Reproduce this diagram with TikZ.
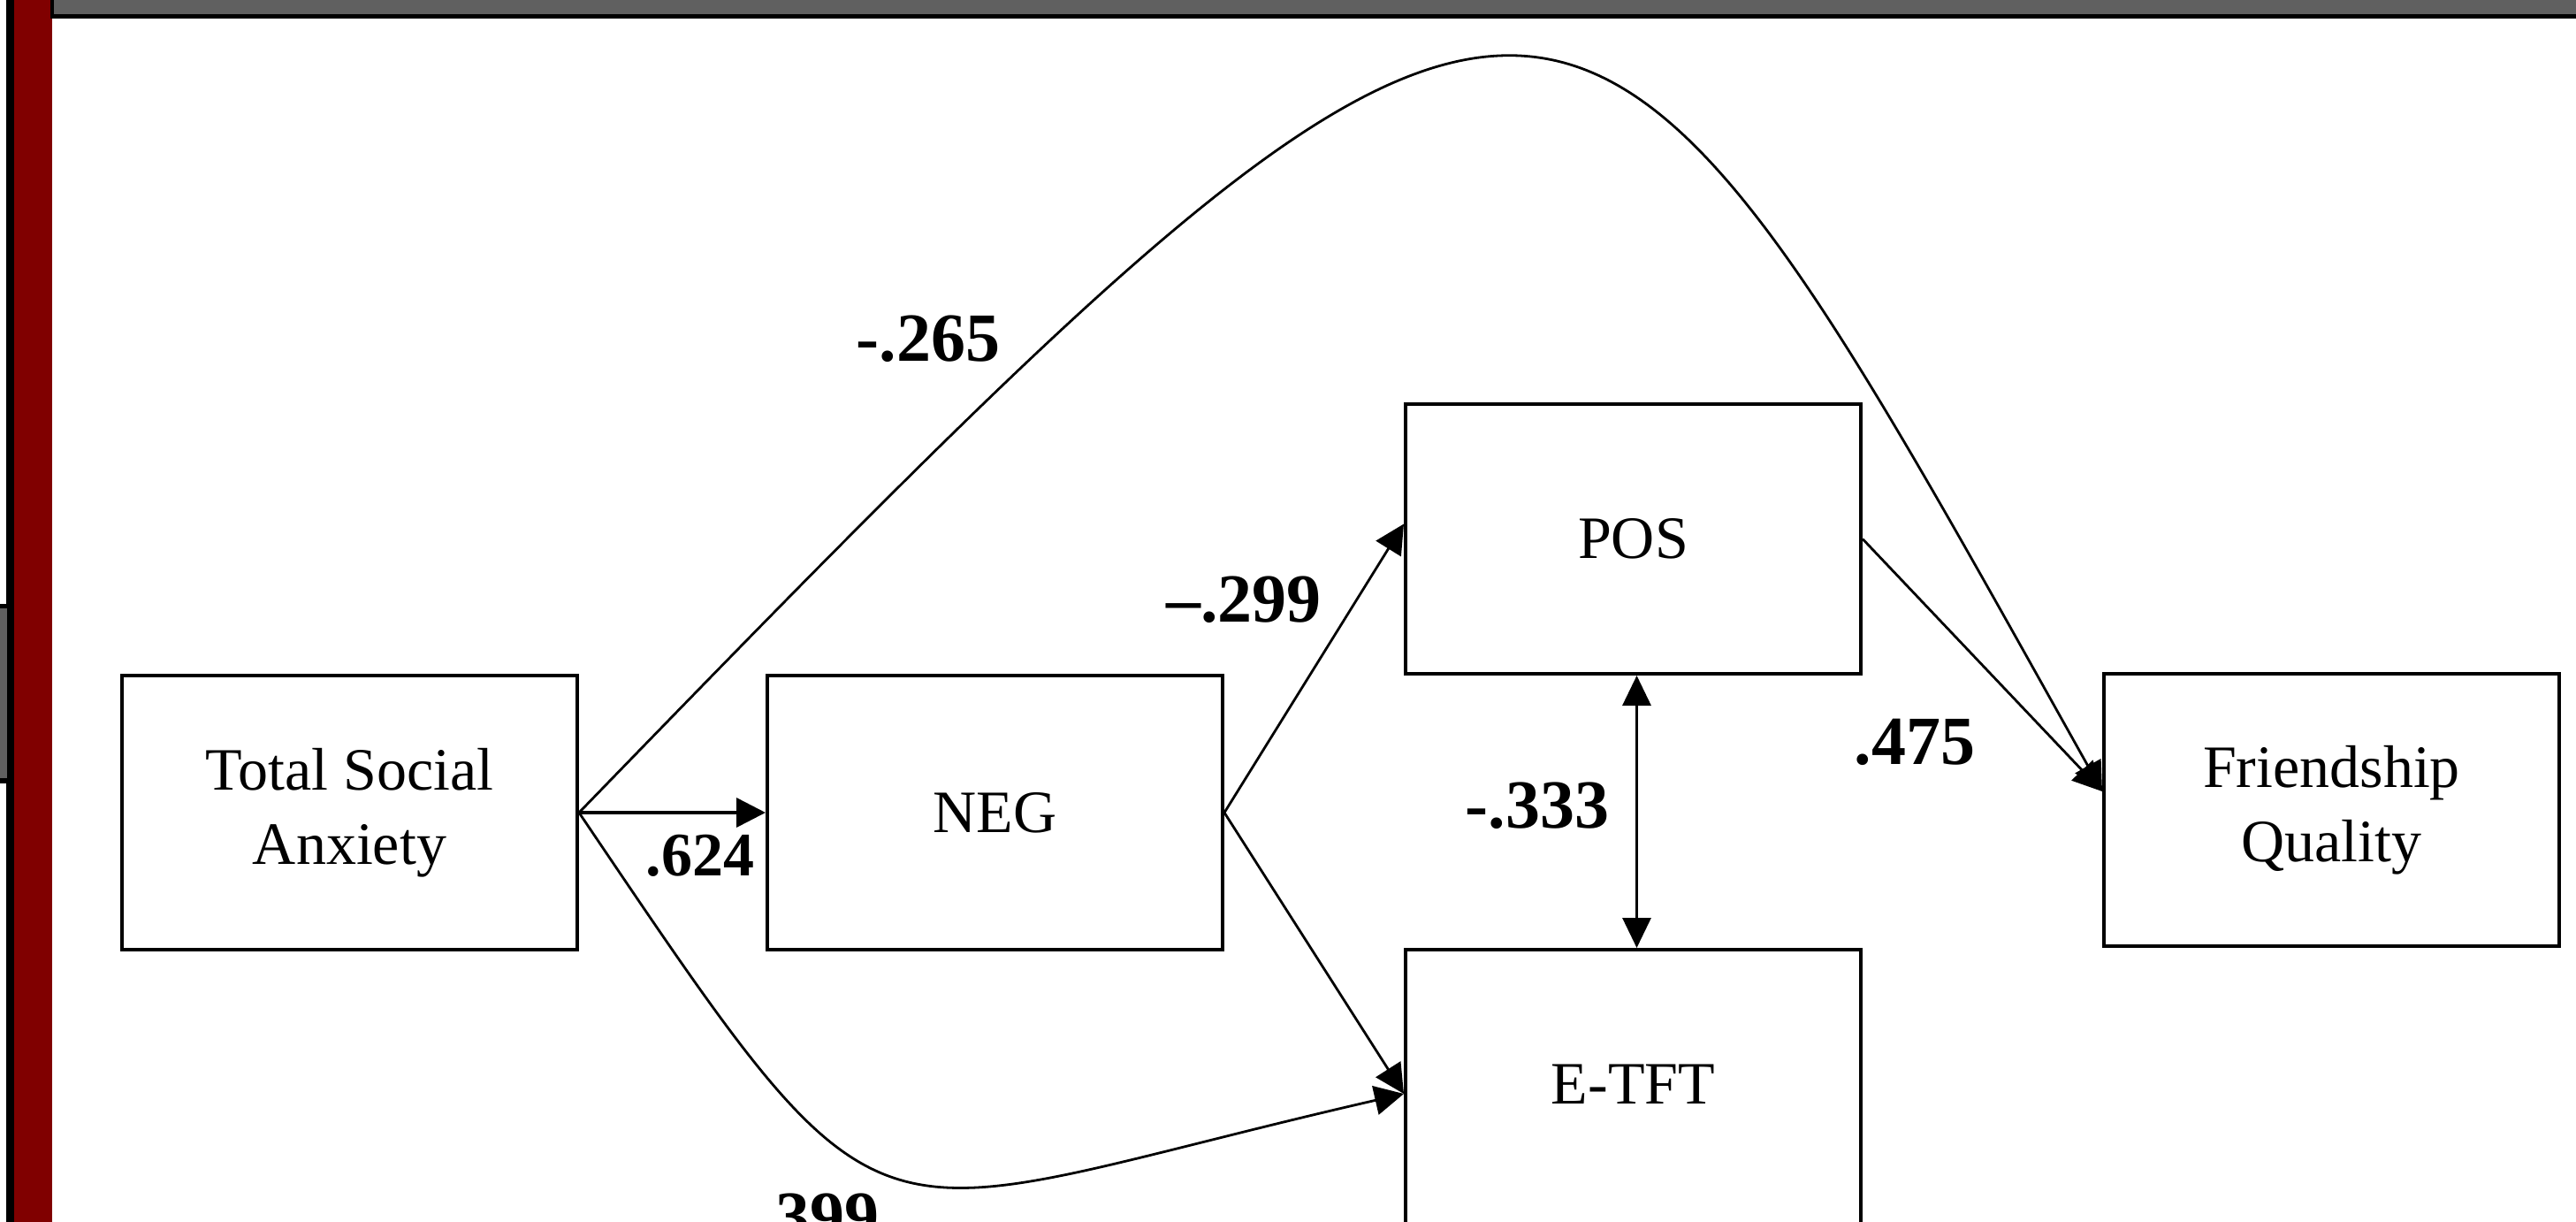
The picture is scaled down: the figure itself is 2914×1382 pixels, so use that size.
\documentclass[tikz,border=0pt]{standalone}
\usepackage{fontspec}
\setmainfont{Liberation Serif}
\usetikzlibrary{arrows.meta}
\definecolor{darkred}{HTML}{800000}
\definecolor{bargray}{HTML}{606060}
\begin{document}
\begin{tikzpicture}[x=0.25pt,y=-0.25pt,
  box/.style={draw,line width=1pt,minimum width=128.75pt,inner sep=0pt,align=center,font=\fontsize{17}{21}\selectfont},
  lbl/.style={anchor=base,inner sep=0pt,font=\fontsize{19.5}{22}\selectfont\bfseries},
  conn/.style={line width=0.7pt,-{Triangle[length=8.25pt,width=8.25pt]}}]
\useasboundingbox (0,0) rectangle (2914,1382);
\clip (0,0) rectangle (2914,1382);
\fill[white] (0,0) rectangle (2914,1382);
% frame decorations
\fill[black] (7,0) rectangle (16,1382);
\fill[darkred] (16,0) rectangle (59,1382);
\fill[black] (57,0) rectangle (2914,21);
\fill[bargray] (61,0) rectangle (2914,16);
\fill[black] (0,683) rectangle (9,886);
\fill[bargray] (0,688) rectangle (8,880);
% boxes
\node[box,minimum height=77.5pt] (tsa) at (395.5,919) {Total Social\\Anxiety};
\node[box,minimum height=77.5pt] (neg) at (1125.5,919) {NEG};
\node[box,minimum height=76.25pt] (pos) at (1847.5,609.5) {POS};
\node[box,minimum height=81.5pt,label={[font=\fontsize{17}{21}\selectfont,yshift=2.75pt]center:E-TFT}] (etft) at (1847.5,1237) {};
\node[box,minimum height=77pt] (fq) at (2637.5,916) {Friendship\\Quality};
% connectors
\draw[conn,line width=0.9pt] (tsa.east) -- (neg.west);
\draw[conn] (neg.east) -- ([yshift=4.25pt]pos.west);
\draw[conn] (neg.east) -- (etft.west);
\draw[conn] (tsa.east) .. controls (1018,1456) and (959,1381) .. (etft.west);
\draw[conn] (tsa.east) .. controls (1774,-235) and (1769,-193) .. ([yshift=5.25pt]fq.west);
\draw[conn] (pos.east) -- ([yshift=5.25pt]fq.west);
\draw[line width=0.8pt,{Triangle[length=8.5pt,width=8pt]}-{Triangle[length=8.5pt,width=8pt]}] ([xshift=1pt]pos.south) -- ([xshift=1pt]etft.north);
% labels
\node[lbl] (l265) at (1050,408) {-.265};
\node[lbl] (l299) at (1407,703) {--.299};
\node[lbl,font=\fontsize{17.5}{20}\selectfont\bfseries] (l624) at (792,990) {.624};
\node[lbl] (l333) at (1739,936) {-.333};
\node[lbl] (l475) at (2166,864) {.475};
\node[lbl] (l399) at (926,1401) {.399};
\end{tikzpicture}
\end{document}
